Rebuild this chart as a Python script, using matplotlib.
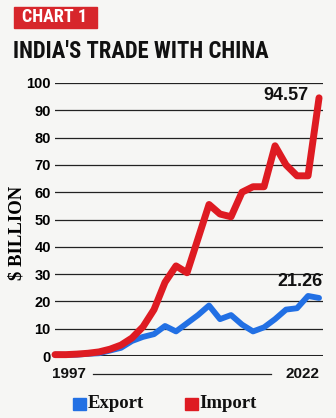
import matplotlib
matplotlib.use('Agg')
import matplotlib.pyplot as plt
from matplotlib.patches import Rectangle
from matplotlib.lines import Line2D
from matplotlib import font_manager

years = list(range(1997, 2022))
imports = [0.5, 0.5, 0.7, 1.0, 1.5, 2.5, 4.0, 6.6, 10.7, 17.0, 27.0, 33.0, 30.5,
           43.0, 55.5, 52.0, 51.0, 60.0, 62.0, 62.0, 77.0, 70.0, 66.0, 66.0, 94.57]
exports = [0.5, 0.4, 0.5, 0.8, 1.0, 2.0, 3.0, 5.5, 7.0, 8.0, 11.0, 9.0, 12.0,
           15.0, 18.5, 13.5, 15.0, 11.5, 9.0, 10.5, 13.5, 17.0, 17.5, 22.0, 21.26]
yticks = [0, 10, 20, 30, 40, 50, 60, 70, 80, 90, 100]
first_label = '1997'
last_label = '2022'

red = '#de1b22'
blue = '#2270e4'
bg = '#f6f6f4'
installed = {f.name for f in font_manager.fontManager.ttflist}
narrow = [f for f in ['Roboto Condensed', 'DejaVu Sans Condensed',
                      'Liberation Sans Narrow', 'Roboto', 'Liberation Sans']
          if f in installed][:1] + ['DejaVu Sans']
sans = ['Liberation Sans', 'DejaVu Sans']
serif = ['Liberation Serif', 'DejaVu Serif']

W, H = 336, 418
fig = plt.figure(figsize=(W / 100, H / 100), dpi=100, facecolor=bg)

# header
fig.add_artist(Rectangle((14 / W, 1 - 28 / H), 83 / W, 21 / H,
                         transform=fig.transFigure, color='#d7262b'))
fig.text(55 / W, 1 - 17.5 / H, 'CHART 1', color='white', fontsize=13,
         fontweight='bold', ha='center', va='center', family=narrow)
title = fig.text(13 / W, 1 - 51 / H, "INDIA'S TRADE WITH CHINA", color='#111111',
                 fontsize=17, fontweight='bold', ha='left', va='center',
                 family=narrow)

ax = fig.add_axes([55 / W, 1 - 356 / H, (323 - 55) / W, (356 - 83) / H])
ax.set_facecolor('none')
x = list(range(len(years)))
ax.set_xlim(0, 24.36)
ax.set_ylim(0, 100)
for v in yticks:
    ax.axhline(v, color='#222222', lw=2.2 if v == 0 else 0.9, zorder=1)
ax.plot(x, exports, color=blue, lw=4.2, solid_capstyle='round',
        solid_joinstyle='round', clip_on=False, zorder=3)
ax.plot(x, imports, color=red, lw=5.0, solid_capstyle='round',
        solid_joinstyle='round', clip_on=False, zorder=4)

ax.annotate(f'{imports[-1]:.2f}', (x[-1], imports[-1]),
            xytext=(x[-1] - 3.0, imports[-1] + 1.0), textcoords='data',
            ha='center', va='center', family=sans,
            fontsize=13, fontweight='bold', color='#111111')
ax.annotate(f'{exports[-1]:.2f}', (x[-1], exports[-1]),
            xytext=(x[-1] - 1.75, exports[-1] + 6.2), textcoords='data',
            ha='center', va='center', family=sans,
            fontsize=13, fontweight='bold', color='#111111')

ax.set_yticks(yticks)
ax.set_yticklabels([str(v) for v in yticks], fontweight='bold', fontsize=10.5,
                   family=sans)
ax.tick_params(axis='y', length=0, pad=3)
ax.set_xticks([])
for s in ax.spines.values():
    s.set_visible(False)
ax.set_ylabel('$ BILLION', family=serif, fontweight='bold', fontsize=13.5)
ax.yaxis.set_label_coords(-0.11, 0.45)

# x end labels
fig.text(52 / W, 1 - 374 / H, first_label, fontsize=11, fontweight='bold',
         ha='left', va='center', color='#111111', family=sans)
fig.text(319 / W, 1 - 374 / H, last_label, fontsize=11, fontweight='bold',
         ha='right', va='center', color='#111111', family=sans)
fig.add_artist(Line2D([93 / W, 271 / W], [1 - 374 / H, 1 - 374 / H],
                      transform=fig.transFigure, color='#222222', lw=0.9))

# legend
fig.add_artist(Rectangle((73 / W, 1 - 410 / H), 13 / W, 12 / H,
                         transform=fig.transFigure, color=blue))
fig.text(88 / W, 1 - 404 / H, 'Export', family=serif, fontsize=13.5,
         fontweight='bold', ha='left', va='center', color='#111111')
fig.add_artist(Rectangle((185 / W, 1 - 410 / H), 13 / W, 12 / H,
                         transform=fig.transFigure, color=red))
fig.text(199 / W, 1 - 404 / H, 'Import', family=serif, fontsize=13.5,
         fontweight='bold', ha='left', va='center', color='#111111')

# shrink the title so it ends where the reference does
fig.canvas.draw()
bb = title.get_window_extent()
if bb.x1 > 269:
    title.set_fontsize(17 * (269 - bb.x0) / bb.width)

fig.savefig('out.png', dpi=100, facecolor=bg)
